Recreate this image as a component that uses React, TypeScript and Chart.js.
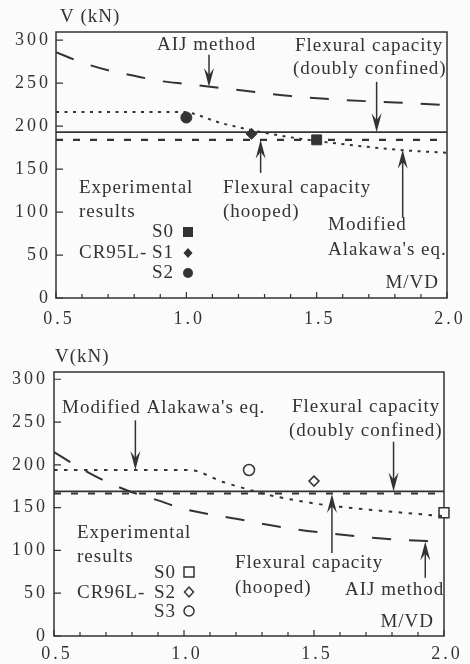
import React, { useEffect, useRef } from "react";
import { Chart, registerables } from "chart.js";

Chart.register(...registerables);

const INK = "#333333";
const BG = "#fbfbfb";
const SERIF = '"Liberation Serif", "Times New Roman", serif';

// ---------- shared axes ----------
const xTickValues = [0.5, 1.0, 1.5, 2.0];
const xMinorTicks = [0.6, 0.7, 0.8, 0.9, 1.1, 1.2, 1.3, 1.4, 1.6, 1.7, 1.8, 1.9];
const yTickValues = [0, 50, 100, 150, 200, 250, 300];

// ---------- top panel: CR95L ----------
const topAijX = [0.5, 0.6, 0.7, 0.8, 0.9, 1.0, 1.2, 1.4, 1.6, 1.8, 2.0];
const topAijV = [286, 274, 265, 258.5, 252.5, 249, 242, 235, 230.5, 227.5, 224.5];
const topArakawaX = [0.5, 0.98, 1.14, 1.28, 1.42, 1.63, 1.83, 2.0];
const topArakawaV = [216.5, 216.5, 203, 193.5, 186, 178, 172, 169];
const topDoublyX = [0.5, 2.0];
const topDoublyV = [193, 193];
const topHoopedX = [0.5, 2.0];
const topHoopedV = [184, 184];
const topSpecimens = ["S0", "S1", "S2"];
const topSpecimenX = [1.5, 1.25, 1.0];
const topSpecimenV = [184, 191, 210];
// arrows: x value, tail value, tip value
const topArrowX = [1.087, 1.73, 1.285, 1.83];
const topArrowTail = [283, 251.5, 145.5, 94];
const topArrowTip = [245.5, 193, 184, 172.5];

// ---------- bottom panel: CR96L ----------
const botAijX = [0.5, 0.6, 0.7, 0.8, 0.9, 1.0, 1.2, 1.4, 1.6, 1.8, 2.0];
const botAijV = [215, 196.5, 180.5, 168, 158.5, 148.5, 137, 126, 118.7, 113, 110];
const botArakawaX = [0.5, 1.02, 1.15, 1.25, 1.33, 1.5, 1.6, 1.77, 2.0];
const botArakawaV = [194, 194, 180, 171, 164.5, 155, 151, 146, 140];
const botDoublyX = [0.5, 2.0];
const botDoublyV = [169, 169];
const botHoopedX = [0.5, 2.0];
const botHoopedV = [166.5, 166.5];
const botSpecimens = ["S0", "S2", "S3"];
const botSpecimenX = [2.0, 1.5, 1.25];
const botSpecimenV = [144, 181, 194];
const botArrowX = [0.813, 1.806, 1.569, 1.928];
const botArrowTail = [252, 227, 97, 68];
const botArrowTip = [194, 169, 166, 110.5];

type TextItem = [string, number, number, CanvasTextAlign?];
type LegendItem = [string, number, number, boolean];

type Panel = {
  aij: [number[], number[]];
  arakawa: [number[], number[]];
  doubly: [number[], number[]];
  hooped: [number[], number[]];
  specimens: [string[], number[], number[]];
  styles: string[];
  radii: number[];
  filled: boolean;
  arrows: [number[], number[], number[]];
  texts: TextItem[];
  legend: LegendItem[];
  padTop: number;
  padRight: number;
  yWidth: number;
  xHeight: number;
  yMax: number;
  xPad: number;
  yPad: number;
  dotDash: number[];
};

const topPanel: Panel = {
  aij: [topAijX, topAijV],
  arakawa: [topArakawaX, topArakawaV],
  doubly: [topDoublyX, topDoublyV],
  hooped: [topHoopedX, topHoopedV],
  specimens: [topSpecimens, topSpecimenX, topSpecimenV],
  styles: ["rect", "rectRot", "circle"],
  radii: [7, 5.5, 5.5],
  filled: true,
  arrows: [topArrowX, topArrowTail, topArrowTip],
  texts: [
    ["V (kN)", 60, 22],
    ["AIJ method", 157, 50],
    ["Flexural capacity", 295, 51],
    ["(doubly confined)", 293, 74],
    ["Flexural capacity", 223, 193],
    ["(hooped)", 223, 217],
    ["Modified", 328, 230],
    ["Alakawa's eq.", 328, 255],
    ["Experimental", 79, 193],
    ["results", 79, 217],
    ["S0", 174, 237, "right"],
    ["CR95L-", 79, 258],
    ["S1", 174, 258, "right"],
    ["S2", 174, 278, "right"],
    ["M/VD", 439, 288, "right"],
  ],
  legend: [
    ["rect", 188, 232, true],
    ["rectRot", 188, 253, true],
    ["circle", 188, 273, true],
  ],
  padTop: 32,
  padRight: 23,
  yWidth: 56,
  xHeight: 34,
  yMax: 309.5,
  xPad: 10,
  yPad: 5,
  dotDash: [3, 5.5],
};

const botPanel: Panel = {
  aij: [botAijX, botAijV],
  arakawa: [botArakawaX, botArakawaV],
  doubly: [botDoublyX, botDoublyV],
  hooped: [botHoopedX, botHoopedV],
  specimens: [botSpecimens, botSpecimenX, botSpecimenV],
  styles: ["rect", "rectRot", "circle"],
  radii: [7, 5, 5.5],
  filled: false,
  arrows: [botArrowX, botArrowTail, botArrowTip],
  texts: [
    ["V(kN)", 55, 30],
    ["Modified Alakawa's eq.", 62, 81],
    ["Flexural capacity", 292, 80],
    ["(doubly confined)", 289, 104],
    ["Experimental", 77, 206],
    ["results", 77, 230],
    ["S0", 176, 246, "right"],
    ["CR96L-", 77, 266],
    ["S2", 176, 266, "right"],
    ["S3", 176, 285, "right"],
    ["Flexural capacity", 235, 236],
    ["(hooped)", 235, 261],
    ["AIJ method", 345, 263],
    ["M/VD", 434, 295, "right"],
  ],
  legend: [
    ["rect", 189, 240, false],
    ["rectRot", 189, 260, false],
    ["circle", 189, 279, false],
  ],
  padTop: 40,
  padRight: 26,
  yWidth: 54,
  xHeight: 28,
  yMax: 308.5,
  xPad: 7,
  yPad: 6,
  dotDash: [3.5, 6.5],
};

function pts(xs: number[], vs: number[]) {
  return xs.map((x, i) => ({ x, y: vs[i] }));
}

function drawShape(ctx: CanvasRenderingContext2D, shape: string, x: number, y: number, filled: boolean) {
  ctx.save();
  ctx.beginPath();
  if (shape === "rect") {
    ctx.rect(x - 5, y - 5, 10, 10);
  } else if (shape === "rectRot") {
    ctx.moveTo(x, y - 5);
    ctx.lineTo(x + 4.5, y);
    ctx.lineTo(x, y + 5);
    ctx.lineTo(x - 4.5, y);
    ctx.closePath();
  } else {
    ctx.arc(x, y, 5, 0, Math.PI * 2);
  }
  if (filled) {
    ctx.fillStyle = INK;
    ctx.fill();
  } else {
    ctx.fillStyle = BG;
    ctx.fill();
    ctx.lineWidth = 1.5;
    ctx.strokeStyle = INK;
    ctx.stroke();
  }
  ctx.restore();
}

function drawArrow(ctx: CanvasRenderingContext2D, x: number, yTail: number, yTip: number) {
  const dir = yTip > yTail ? 1 : -1;
  ctx.save();
  ctx.strokeStyle = INK;
  ctx.fillStyle = INK;
  ctx.lineWidth = 1.5;
  ctx.beginPath();
  ctx.moveTo(x, yTail);
  ctx.lineTo(x, yTip - dir * 10);
  ctx.stroke();
  ctx.beginPath();
  ctx.moveTo(x, yTip);
  ctx.lineTo(x - 5, yTip - dir * 19);
  ctx.lineTo(x, yTip - dir * 12);
  ctx.lineTo(x + 5, yTip - dir * 19);
  ctx.closePath();
  ctx.fill();
  ctx.restore();
}

function makeChart(canvas: HTMLCanvasElement, p: Panel) {
  const decor = {
    id: "decor",
    beforeDraw(chart: any) {
      const ctx = chart.ctx as CanvasRenderingContext2D;
      ctx.save();
      ctx.fillStyle = BG;
      ctx.fillRect(0, 0, chart.width, chart.height);
      ctx.restore();
      (ctx as any).letterSpacing = "3px";
    },
    beforeDatasetsDraw(chart: any) {
      const ctx = chart.ctx as CanvasRenderingContext2D;
      const a = chart.chartArea;
      const xs = chart.scales.x;
      const ys = chart.scales.y;
      ctx.save();
      ctx.strokeStyle = INK;
      ctx.lineWidth = 1.5;
      ctx.strokeRect(a.left, a.top, a.right - a.left, a.bottom - a.top);
      ctx.lineWidth = 1.2;
      ctx.beginPath();
      yTickValues.forEach((v) => {
        const y = ys.getPixelForValue(v);
        ctx.moveTo(a.left, y);
        ctx.lineTo(a.left + 7, y);
      });
      xTickValues.forEach((v) => {
        const x = xs.getPixelForValue(v);
        ctx.moveTo(x, a.bottom);
        ctx.lineTo(x, a.bottom - 6);
      });
      xMinorTicks.forEach((v) => {
        const x = xs.getPixelForValue(v);
        ctx.moveTo(x, a.bottom);
        ctx.lineTo(x, a.bottom - 4);
      });
      ctx.stroke();
      ctx.restore();
    },
    afterDraw(chart: any) {
      const ctx = chart.ctx as CanvasRenderingContext2D;
      const xs = chart.scales.x;
      const ys = chart.scales.y;
      const [ax, at, ap] = p.arrows;
      ax.forEach((xv, i) => {
        drawArrow(ctx, xs.getPixelForValue(xv), ys.getPixelForValue(at[i]), ys.getPixelForValue(ap[i]));
      });
      ctx.save();
      (ctx as any).letterSpacing = "1px";
      ctx.fillStyle = INK;
      ctx.font = `19px ${SERIF}`;
      ctx.textBaseline = "alphabetic";
      p.texts.forEach(([t, x, y, align]) => {
        ctx.textAlign = align || "left";
        ctx.fillText(t, x, y);
      });
      ctx.restore();
      p.legend.forEach(([shape, x, y, filled]) => drawShape(ctx, shape, x, y, filled));
    },
  };

  const [names, sx, sv] = p.specimens;

  return new Chart(canvas, {
    type: "scatter",
    data: {
      datasets: [
        {
          label: "AIJ method",
          data: pts(p.aij[0], p.aij[1]),
          showLine: true,
          borderColor: INK,
          borderWidth: 2,
          borderDash: [19, 18],
          pointRadius: 0,
          cubicInterpolationMode: "monotone",
        },
        {
          label: "Modified Alakawa's eq.",
          data: pts(p.arakawa[0], p.arakawa[1]),
          showLine: true,
          borderColor: INK,
          borderWidth: 2,
          borderDash: p.dotDash,
          pointRadius: 0,
          cubicInterpolationMode: "monotone",
        },
        {
          label: "Flexural capacity (doubly confined)",
          data: pts(p.doubly[0], p.doubly[1]),
          showLine: true,
          borderColor: INK,
          borderWidth: 1.6,
          pointRadius: 0,
        },
        {
          label: "Flexural capacity (hooped)",
          data: pts(p.hooped[0], p.hooped[1]),
          showLine: true,
          borderColor: INK,
          borderWidth: 2.2,
          borderDash: [7, 10],
          pointRadius: 0,
        },
        {
          label: names.join(","),
          data: pts(sx, sv),
          showLine: false,
          pointStyle: p.styles as any,
          pointRadius: p.radii,
          pointBackgroundColor: p.filled ? INK : BG,
          pointBorderColor: INK,
          pointBorderWidth: p.filled ? 1 : 1.5,
          clip: false as any,
        } as any,
      ],
    },
    options: {
      animation: false,
      responsive: false,
      events: [],
      layout: { padding: { left: 0, right: p.padRight, top: p.padTop, bottom: 0 } },
      plugins: {
        legend: { display: false },
        tooltip: { enabled: false },
      },
      scales: {
        x: {
          type: "linear",
          min: 0.5,
          max: 2.0,
          grid: { display: false, drawTicks: false },
          border: { display: false },
          afterFit: (s: any) => {
            s.height = p.xHeight;
          },
          afterBuildTicks: (s: any) => {
            s.ticks = xTickValues.map((v) => ({ value: v }));
          },
          ticks: {
            padding: p.xPad,
            labelOffset: 3,
            maxRotation: 0,
            autoSkip: false,
            color: INK,
            font: { family: SERIF, size: 18 },
            callback: (v: any) => Number(v).toFixed(1),
          },
        },
        y: {
          type: "linear",
          min: 0,
          max: p.yMax,
          grid: { display: false, drawTicks: false },
          border: { display: false },
          afterFit: (s: any) => {
            s.width = p.yWidth;
          },
          afterBuildTicks: (s: any) => {
            s.ticks = yTickValues.map((v) => ({ value: v }));
          },
          ticks: {
            padding: p.yPad,
            color: INK,
            font: { family: SERIF, size: 18 },
            callback: (v: any) => String(v),
          },
        },
      },
    },
    plugins: [decor],
  } as any);
}

function Panel({ panel }: { panel: Panel }) {
  const ref = useRef<HTMLCanvasElement>(null);
  useEffect(() => {
    if (!ref.current) return;
    const chart = makeChart(ref.current, panel);
    return () => chart.destroy();
  }, [panel]);
  return <canvas ref={ref} width={470} height={332} style={{ display: "block", width: 470, height: 332 }} />;
}

export default function App() {
  return (
    <div style={{ position: "absolute", left: 0, top: 0, width: 470, height: 664, background: BG }}>
      <Panel panel={topPanel} />
      <Panel panel={botPanel} />
    </div>
  );
}
